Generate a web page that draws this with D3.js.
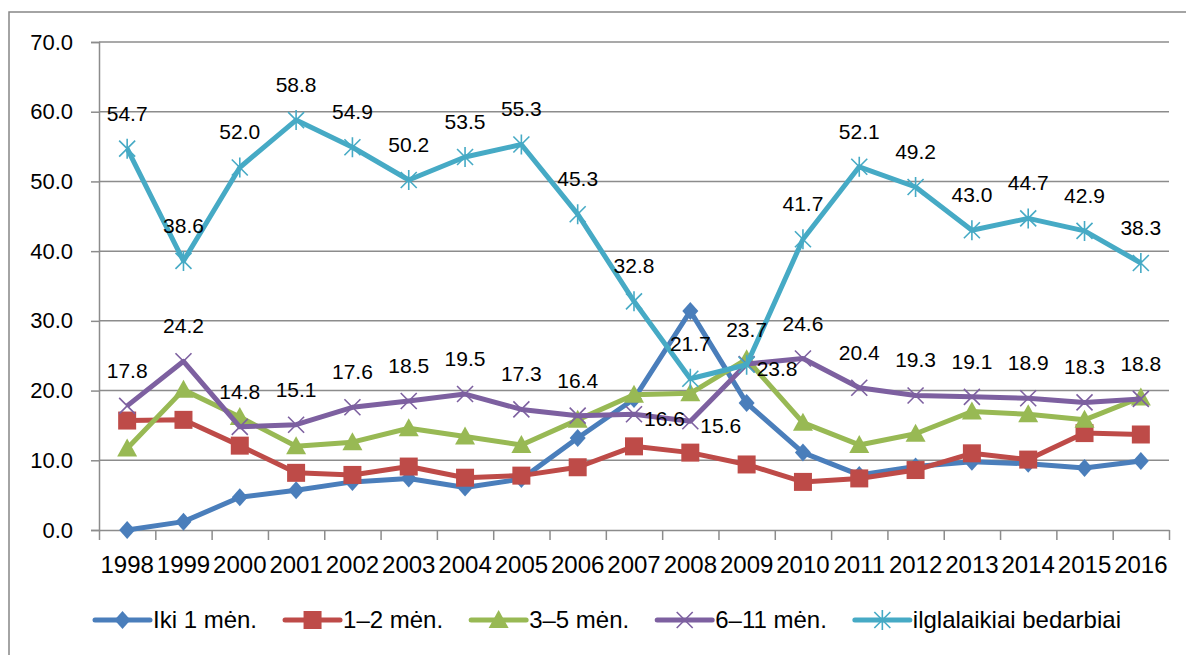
<!DOCTYPE html>
<html>
<head>
<meta charset="utf-8">
<script src="https://cdn.jsdelivr.net/npm/d3@7"></script>
<style>
  body { margin: 0; background: #fff; }
  text { font-family: "Liberation Sans", Arial, sans-serif; fill: #000; }
</style>
</head>
<body>
<div id="chart"></div>
<script>
'use strict'

// categories
let years = ["1998","1999","2000","2001","2002","2003","2004","2005","2006","2007",
             "2008","2009","2010","2011","2012","2013","2014","2015","2016"]

// series values
let iki1 = [0.0, 1.2, 4.7, 5.7, 6.9, 7.4, 6.1, 7.3, 13.2, 18.8, 31.4, 18.2, 11.1, 7.9, 9.1, 9.8, 9.5, 8.9, 9.9]
let men1_2 = [15.7, 15.8, 12.1, 8.2, 7.9, 9.1, 7.5, 7.8, 9.0, 12.0, 11.1, 9.4, 6.9, 7.4, 8.6, 11.0, 10.1, 13.9, 13.7]
let men3_5 = [11.7, 20.1, 16.2, 12.0, 12.6, 14.6, 13.4, 12.2, 15.8, 19.4, 19.6, 24.5, 15.4, 12.2, 13.8, 17.0, 16.6, 15.8, 19.0]
let men6_11 = [17.8, 24.2, 14.8, 15.1, 17.6, 18.5, 19.5, 17.3, 16.4, 16.6, 15.6, 23.8, 24.6, 20.4, 19.3, 19.1, 18.9, 18.3, 18.8]
let ilgalaikiai = [54.7, 38.6, 52.0, 58.8, 54.9, 50.2, 53.5, 55.3, 45.3, 32.8, 21.7, 23.7, 41.7, 52.1, 49.2, 43.0, 44.7, 42.9, 38.3]

// tick labels
let yTicks = [0, 10, 20, 30, 40, 50, 60, 70]

let seriesNames = ["Iki 1 mėn.", "1–2 mėn.", "3–5 mėn.", "6–11 mėn.", "ilglalaikiai bedarbiai"]

// styling
let lineColors = ["#4A7EBB", "#BE4B48", "#98B954", "#7D60A0", "#46AAC5"]
let markerTypes = ["diamond", "square", "triangle", "x", "star"]
let labelled = [false, false, false, true, true]
// years where the 6-11 label sits to the right of its point
let rightLabels = ["2007", "2008", "2009"]

let width = 1186
let height = 655
let plot = { left: 99, top: 42, right: 1169, bottom: 530 }

let seriesData = [iki1, men1_2, men3_5, men6_11, ilgalaikiai]

function markerPath(type) {
  if (type == "diamond") return "M0,-9L8,0L0,9L-8,0Z"
  if (type == "square") return "M-9,-9h18v18h-18Z"
  if (type == "triangle") return "M0,-10L10,8L-10,8Z"
  if (type == "x") return "M-8,-8L8,8M-8,8L8,-8"
  return "M-8,-8L8,8M-8,8L8,-8M0,-10V10"
}
function isStroked(type) {
  return type == "x" || type == "star"
}

let svg = d3.select("#chart").append("svg")
  .attr("width", width)
  .attr("height", height)

// outer frame
svg.append("rect")
  .attr("x", 9).attr("y", 12)
  .attr("width", 1300).attr("height", 800)
  .attr("fill", "none")
  .attr("stroke", "#878787")
  .attr("stroke-width", 1.5)

let x = d3.scaleBand().domain(years).range([plot.left, plot.right])
let xIdx = d3.scaleLinear().domain([0, years.length]).range([plot.left, plot.right])
let y = d3.scaleLinear().domain([0, 70]).range([plot.bottom, plot.top])
let cx = d => x(d) + x.bandwidth() / 2

// gridlines
svg.append("g")
  .selectAll("line")
  .data(yTicks.filter(d => d > 0))
  .enter().append("line")
  .attr("x1", plot.left).attr("x2", plot.right)
  .attr("y1", d => y(d)).attr("y2", d => y(d))
  .attr("stroke", "#8c8c8c")
  .attr("stroke-width", 1.5)

// y axis
let yAxis = svg.append("g")
  .attr("transform", "translate(" + plot.left + ",0)")
  .call(d3.axisLeft(y).tickValues(yTicks).tickSize(8).tickPadding(18).tickFormat(d3.format(".1f")))
yAxis.select(".domain").attr("stroke", "#8c8c8c").attr("stroke-width", 1.5)
yAxis.selectAll(".tick line").attr("stroke", "#8c8c8c").attr("stroke-width", 1.5)
yAxis.selectAll("text").style("font-size", "22px").attr("fill", "#000")

// x axis: boundary ticks
let xTicks = svg.append("g")
  .attr("transform", "translate(0," + plot.bottom + ")")
  .call(d3.axisBottom(xIdx).tickValues(d3.range(years.length + 1)).tickSize(10).tickSizeOuter(0).tickFormat(""))
xTicks.select(".domain").attr("stroke", "#8c8c8c").attr("stroke-width", 1.5)
xTicks.selectAll(".tick line").attr("stroke", "#8c8c8c").attr("stroke-width", 1.5)

// x axis: labels
let xLabels = svg.append("g")
  .attr("transform", "translate(0," + plot.bottom + ")")
  .call(d3.axisBottom(x).tickSize(0).tickPadding(26))
xLabels.select(".domain").remove()
xLabels.selectAll("text").style("font-size", "24px").attr("fill", "#000")

let line = d3.line()
  .x((d, i) => cx(years[i]))
  .y(d => y(d))

// series lines and markers
seriesData.forEach(function (vals, s) {
  let g = svg.append("g")
  g.append("path")
    .datum(vals)
    .attr("d", line)
    .attr("fill", "none")
    .attr("stroke", lineColors[s])
    .attr("stroke-width", 5)
    .attr("stroke-linejoin", "round")

  g.selectAll(".mk")
    .data(vals)
    .enter().append("path")
    .attr("class", "mk")
    .attr("transform", (d, i) => "translate(" + cx(years[i]) + "," + y(d) + ")")
    .attr("d", markerPath(markerTypes[s]))
    .attr("fill", isStroked(markerTypes[s]) ? "none" : lineColors[s])
    .attr("stroke", lineColors[s])
    .attr("stroke-width", isStroked(markerTypes[s]) ? 1.6 : 0)
})

// data labels
seriesData.forEach(function (vals, s) {
  if (!labelled[s]) return
  svg.append("g")
    .selectAll("text")
    .data(vals)
    .enter().append("text")
    .style("font-size", "21px")
    .attr("text-anchor", (d, i) => (s == 3 && rightLabels.includes(years[i])) ? "start" : "middle")
    .attr("x", (d, i) => (s == 3 && rightLabels.includes(years[i])) ? cx(years[i]) + 10 : cx(years[i]))
    .attr("y", (d, i) => (s == 3 && rightLabels.includes(years[i])) ? y(d) + 12 : y(d) - 28)
    .text(d => d3.format(".1f")(d))
})

// legend
let legend = svg.append("g").attr("class", "legend")
let lx = 95
let ly = 620
seriesNames.forEach(function (name, s) {
  let item = legend.append("g").attr("transform", "translate(" + lx + "," + ly + ")")
  item.append("line")
    .attr("x1", 0).attr("x2", 55)
    .attr("stroke", lineColors[s])
    .attr("stroke-width", 5)
    .attr("stroke-linecap", "round")
  item.append("path")
    .attr("transform", "translate(27.5,0)")
    .attr("d", markerPath(markerTypes[s]))
    .attr("fill", isStroked(markerTypes[s]) ? "none" : lineColors[s])
    .attr("stroke", lineColors[s])
    .attr("stroke-width", isStroked(markerTypes[s]) ? 1.6 : 0)
  let t = item.append("text")
    .attr("x", 58)
    .attr("y", 8)
    .style("font-size", "24px")
    .text(name)
  lx += 58 + t.node().getComputedTextLength() + 28
})
</script>
</body>
</html>
